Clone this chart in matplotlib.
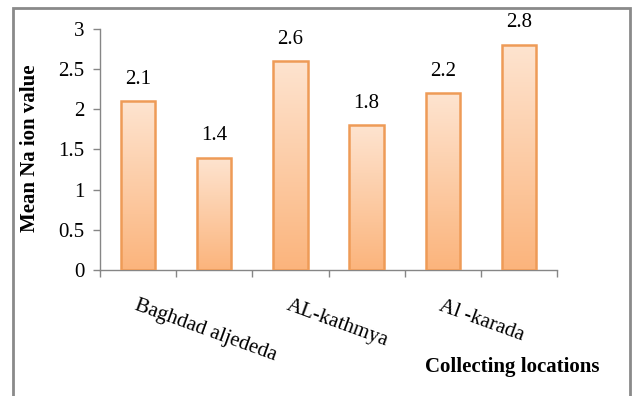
import numpy as np
import matplotlib.pyplot as plt
from matplotlib.colors import LinearSegmentedColormap

# Values
values = [2.1, 1.4, 2.6, 1.8, 2.2, 2.8]
value_labels = ['2.1', '1.4', '2.6', '1.8', '2.2', '2.8']
site_labels = ['Baghdad aljededa', 'AL-kathmya', 'Al -karada']
site_positions = [0, 2, 4]
y_ticks = [0, 0.5, 1, 1.5, 2, 2.5, 3]
y_tick_labels = ['0', '0.5', '1', '1.5', '2', '2.5', '3']

plt.rcParams['font.family'] = ['Liberation Serif', 'DejaVu Serif']

fig = plt.figure(figsize=(6.33, 3.96), dpi=100)
ax = fig.add_axes([0.158, 0.318, 0.722, 0.609])

x = np.arange(len(values))
bars = ax.bar(x, values, width=0.45, facecolor='none', edgecolor='#EE9B57',
              linewidth=1.8, zorder=3)

# vertical gradient fill, light at top, stronger orange at the bottom
cmap = LinearSegmentedColormap.from_list('peach', ['#FBB47C', '#FEE4D0'])
grad = np.linspace(0, 1, 256).reshape(-1, 1)
for bar in bars:
    x0, y0 = bar.get_x(), bar.get_y()
    w, h = bar.get_width(), bar.get_height()
    im = ax.imshow(grad, cmap=cmap, aspect='auto', origin='lower',
                   extent=[x0, x0 + w, y0, y0 + h], zorder=2)
    im.set_clip_path(bar)

for xi, v, lab in zip(x, values, value_labels):
    ax.annotate(lab, (xi, v), xytext=(0, 9), textcoords='offset points',
                ha='center', va='bottom', fontsize=15)

ax.set_xlim(-0.5, len(values) - 0.5)
ax.set_ylim(0, 3)
ax.set_yticks(y_ticks)
ax.set_yticklabels(y_tick_labels, fontsize=15)
ax.set_xticks(np.arange(len(values) + 1) - 0.5)
ax.set_xticklabels([])

spine_color = '#868686'
for side in ['top', 'right']:
    ax.spines[side].set_visible(False)
for side in ['left', 'bottom']:
    ax.spines[side].set_color(spine_color)
    ax.spines[side].set_linewidth(1.0)
ax.tick_params(axis='both', color=spine_color, length=5, width=1.0,
               direction='out', pad=6)

for pos, lab in zip(site_positions, site_labels):
    ax.annotate(lab, (pos, 0), xycoords=('data', 'axes fraction'),
                xytext=(0, -19), textcoords='offset points',
                rotation=-20, rotation_mode='anchor',
                ha='left', va='top', fontsize=15)

fig.text(30 / 633, 1 - 148 / 396, 'Mean Na ion value', rotation=90,
         ha='center', va='center', fontsize=15, fontweight='bold')
fig.text(512 / 633, 1 - 367 / 396, 'Collecting locations', ha='center',
         va='center', fontsize=15, fontweight='bold')

# grey frame around the chart area
frame = plt.Rectangle((12.5 / 633, -0.05), (630 - 12.5) / 633, 1 - 8.5 / 396 + 0.05,
                      transform=fig.transFigure, fill=False,
                      edgecolor='#8A8A8A', linewidth=2)
fig.patches.append(frame)

fig.savefig('out.png', dpi=100)
